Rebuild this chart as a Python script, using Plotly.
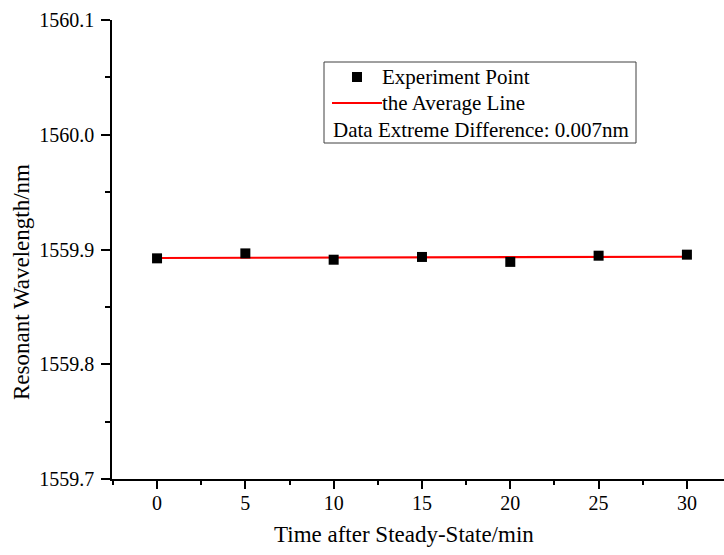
import plotly.graph_objects as go

# ---- data ----
time_min = [0, 5, 10, 15, 20, 25, 30]
wavelength_nm = [1559.8923, 1559.8966, 1559.8911, 1559.8935, 1559.8892, 1559.8946, 1559.8955]
avg_x = [0, 30]
avg_y = [1559.8926, 1559.8937]
x_ticks = [0, 5, 10, 15, 20, 25, 30]
y_ticks = [1559.7, 1559.8, 1559.9, 1560.0, 1560.1]
y_tick_text = ["1559.7", "1559.8", "1559.9", "1560.0", "1560.1"]

W, H = 724, 555
ML, MR, MT, MB = 112, 0, 20, 76
PW, PH = W - ML - MR, H - MT - MB
FONT = "Liberation Serif, Times New Roman, serif"

def px(x):
    return (x - ML) / PW

def py(y):
    return 1 - (y - MT) / PH

fig = go.Figure()
fig.add_trace(go.Scatter(
    x=avg_x, y=avg_y, mode="lines",
    line=dict(color="#ff0000", width=2.2), showlegend=False, hoverinfo="skip"))
fig.add_trace(go.Scatter(
    x=time_min, y=wavelength_nm, mode="markers",
    marker=dict(symbol="square", size=10, color="black", line=dict(width=0)),
    showlegend=False))

shapes = [
    dict(type="rect", xref="paper", yref="paper", x0=px(324), x1=px(636), y0=py(143), y1=py(62),
         line=dict(color="#404040", width=1), fillcolor="rgba(0,0,0,0)"),
    dict(type="rect", xref="paper", yref="paper", x0=px(352), x1=px(362), y0=py(82), y1=py(72),
         line=dict(width=0), fillcolor="black"),
    dict(type="line", xref="paper", yref="paper", x0=px(332), x1=px(382), y0=py(103), y1=py(103),
         line=dict(color="#ff0000", width=2.2)),
]

LF = 21
annotations = [
    dict(text="Experiment Point", xref="paper", yref="paper", x=px(380), y=py(77),
         xanchor="left", yanchor="middle", showarrow=False, font=dict(family=FONT, size=LF, color="black")),
    dict(text="the Average Line", xref="paper", yref="paper", x=px(380), y=py(103),
         xanchor="left", yanchor="middle", showarrow=False, font=dict(family=FONT, size=LF, color="black")),
    dict(text="Data Extreme Difference: 0.007nm", xref="paper", yref="paper", x=px(331), y=py(130),
         xanchor="left", yanchor="middle", showarrow=False, font=dict(family=FONT, size=LF, color="black")),
    # axis titles
    dict(text="Time after Steady-State/min", xref="paper", yref="paper", x=px(404), y=py(534),
         xanchor="center", yanchor="middle", showarrow=False, font=dict(family=FONT, size=23, color="black")),
    dict(text="Resonant Wavelength/nm", xref="paper", yref="paper", x=px(21), y=py(282), textangle=-90,
         xanchor="center", yanchor="middle", showarrow=False, font=dict(family=FONT, size=23, color="black")),
]

fig.update_layout(
    width=W, height=H,
    margin=dict(l=ML, r=MR, t=MT, b=MB, pad=0),
    paper_bgcolor="white", plot_bgcolor="white",
    font=dict(family=FONT, size=20, color="black"),
    shapes=shapes, annotations=annotations,
    xaxis=dict(
        range=[-2.55, 32.1], tickvals=x_ticks, ticks="outside", ticklen=8, tickwidth=1.5,
        tickcolor="black", showline=True, linecolor="black", linewidth=1.5,
        showgrid=False, zeroline=False, ticklabelstandoff=-3,
        minor=dict(dtick=2.5, tick0=0, ticks="outside", ticklen=4, tickwidth=1.5, tickcolor="black"),
        tickfont=dict(family=FONT, size=20),
    ),
    yaxis=dict(
        range=[1559.7, 1560.1], tickvals=y_ticks, ticktext=y_tick_text, ticks="outside", ticklen=9,
        tickwidth=1.5, tickcolor="black", showline=True, linecolor="black", linewidth=1.5,
        showgrid=False, zeroline=False, ticklabelstandoff=3,
        minor=dict(dtick=0.05, tick0=1559.7, ticks="outside", ticklen=5, tickwidth=1.5, tickcolor="black"),
        tickfont=dict(family=FONT, size=20),
    ),
)

fig.write_html("out.html")
